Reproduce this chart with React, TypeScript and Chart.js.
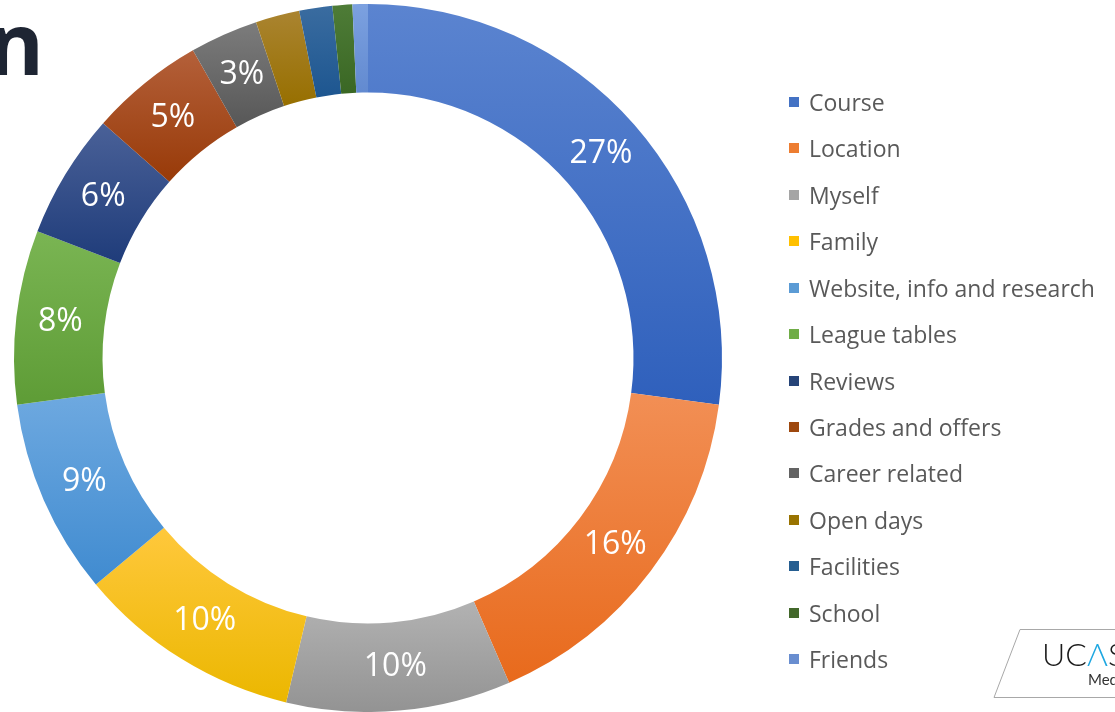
import React, { useEffect, useRef } from "react";
import { Chart, registerables } from "chart.js";

Chart.register(...registerables);

const categories = [
  "Course",
  "Location",
  "Myself",
  "Family",
  "Website, info and research",
  "League tables",
  "Reviews",
  "Grades and offers",
  "Career related",
  "Open days",
  "Facilities",
  "School",
  "Friends",
];
const shares = [27, 16.3, 10.2, 10.2, 8.9, 7.9, 5.7, 5.2, 3.1, 2.0, 1.5, 0.9, 0.7];
const legendColors = [
  "#4472C4", "#ED7D31", "#A5A5A5", "#FFC000", "#5B9BD5", "#70AD47", "#264478",
  "#9E480E", "#636363", "#997300", "#255E91", "#43682B", "#698ED0",
];
const topColors = [
  "#5B84D0", "#F28F55", "#B2B2B2", "#FFC83C", "#6EA9E0", "#7AB553", "#4A6198",
  "#B4603A", "#7C7C7C", "#AA8430", "#3A6CA0", "#4E7C37", "#7CA1E0",
];
const bottomColors = [
  "#2F60BC", "#E86A1C", "#939393", "#EBB700", "#408BD0", "#5E9C36", "#1F3C7A",
  "#983A08", "#575757", "#976F00", "#1D5690", "#3A6724", "#628AD0",
];
const labelThreshold = 2.5;

const total = shares.reduce((a, b) => a + b, 0);

function segmentFill(ctx: any) {
  const i = ctx.dataIndex;
  const chart = ctx.chart;
  const area = chart.chartArea;
  if (!area || i === undefined) return legendColors[i] || "#999";
  let start = 0;
  for (let j = 0; j < i; j++) start += shares[j];
  const a0 = (start / total) * Math.PI * 2 - Math.PI / 2;
  const a1 = ((start + shares[i]) / total) * Math.PI * 2 - Math.PI / 2;
  const cy = (area.top + area.bottom) / 2;
  const R = Math.min(area.width, area.height) / 2;
  const r = R * 0.75;
  let minY = Infinity;
  let maxY = -Infinity;
  for (let k = 0; k <= 60; k++) {
    const a = a0 + ((a1 - a0) * k) / 60;
    for (const rad of [r, R]) {
      const y = cy + rad * Math.sin(a);
      if (y < minY) minY = y;
      if (y > maxY) maxY = y;
    }
  }
  if (maxY - minY < 1) maxY = minY + 1;
  const g = chart.ctx.createLinearGradient(0, minY, 0, maxY);
  g.addColorStop(0, topColors[i]);
  g.addColorStop(1, bottomColors[i]);
  return g;
}

const percentLabels = {
  id: "percentLabels",
  afterDatasetsDraw(chart: any) {
    const meta = chart.getDatasetMeta(0);
    const c = chart.ctx;
    c.save();
    c.fillStyle = "#FFFFFF";
    c.font = '32px "Open Sans"';
    c.textAlign = "center";
    c.textBaseline = "middle";
    meta.data.forEach((arc: any, i: number) => {
      if (shares[i] < labelThreshold) return;
      const p = arc.tooltipPosition();
      c.fillText(Math.round(shares[i]) + "%", p.x, p.y);
    });
    c.restore();
  },
};

export default function App() {
  const ref = useRef<HTMLCanvasElement | null>(null);
  useEffect(() => {
    if (!ref.current) return;
    const chart = new Chart(ref.current, {
      type: "doughnut",
      data: {
        labels: categories,
        datasets: [
          {
            data: shares,
            backgroundColor: segmentFill as any,
            borderWidth: 0,
          },
        ],
      },
      options: {
        responsive: false,
        animation: false,
        cutout: "75%",
        layout: { padding: { left: 14, right: 393, top: 4, bottom: 0 } },
        plugins: {
          legend: { display: false },
          tooltip: { enabled: false },
        },
      },
      plugins: [percentLabels],
    });
    return () => chart.destroy();
  }, []);

  return (
    <div
      style={{
        position: "absolute",
        left: 0,
        top: 0,
        width: 1115,
        height: 712,
        overflow: "hidden",
        background: "#FFFFFF",
        fontFamily: '"Open Sans", sans-serif',
      }}
    >
      <canvas ref={ref} width={1115} height={712} style={{ position: "absolute", left: 0, top: 0 }} />
      <div
        style={{
          position: "absolute",
          right: 1071,
          top: -1,
          fontSize: 86,
          lineHeight: "86px",
          fontWeight: 700,
          color: "#1E2533",
          whiteSpace: "nowrap",
        }}
      >
        n
      </div>
      {categories.map((name, i) => (
        <div
          key={name}
          style={{
            position: "absolute",
            left: 789,
            top: 102 + i * 46.42 - 14,
            height: 28,
            display: "flex",
            alignItems: "center",
            whiteSpace: "nowrap",
          }}
        >
          <span
            style={{
              display: "inline-block",
              width: 10,
              height: 10,
              background: legendColors[i],
              marginRight: 10,
            }}
          />
          <span style={{ fontSize: 23, color: "#595959", lineHeight: "28px" }}>{name}</span>
        </div>
      ))}
      <svg
        width={1115}
        height={712}
        style={{ position: "absolute", left: 0, top: 0, pointerEvents: "none" }}
      >
        <polygon
          points="1020,629.5 1120,629.5 1120,697.5 994,697.5"
          fill="#FFFFFF"
          stroke="#A8A8A8"
          strokeWidth={1}
        />
        <text x={1042} y={666} fontFamily="Lato" fontWeight={300} fontSize={32} fill="#1A1A1A">
          UC<tspan fill="#1EA7E1">Λ</tspan>S
        </text>
        <text x={1088} y={685} fontFamily="Lato" fontSize={15} fill="#333333">
          Media
        </text>
      </svg>
    </div>
  );
}
